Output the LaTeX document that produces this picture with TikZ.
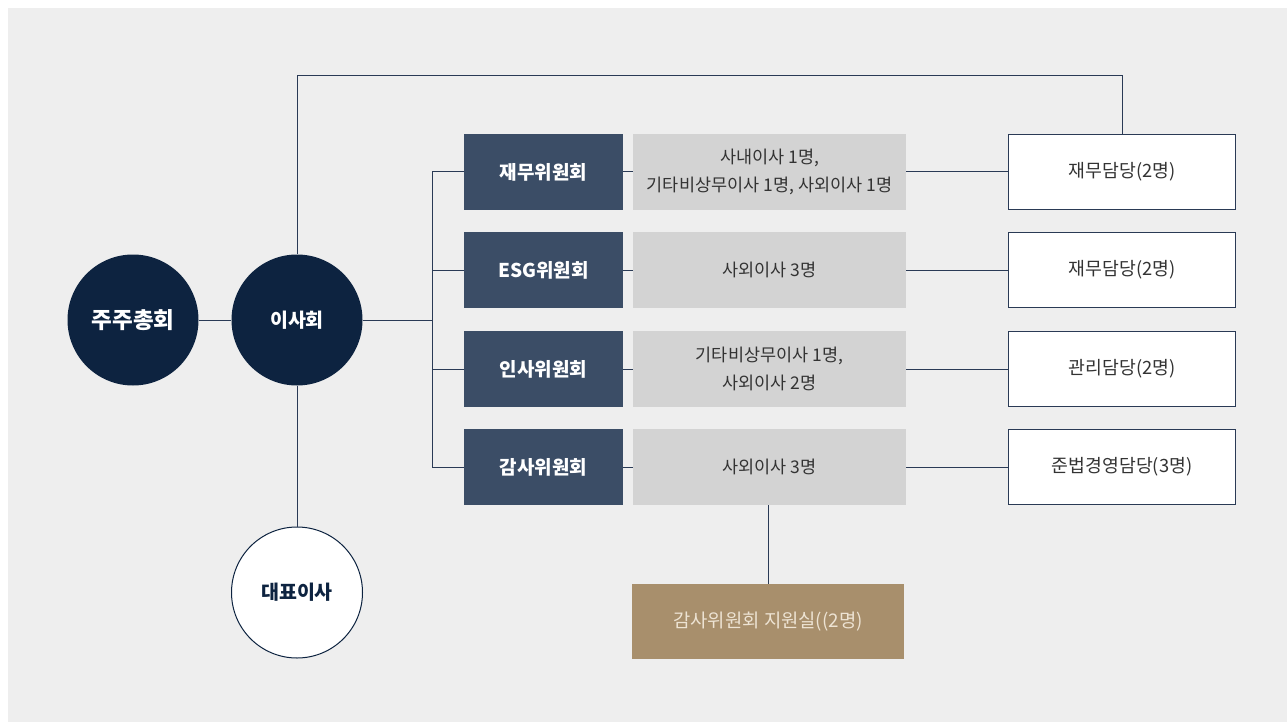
\documentclass[tikz,border=0pt]{standalone}
\usepackage{fontspec}
\setmainfont{Noto Sans CJK KR}
\definecolor{bgc}{HTML}{EEEEEE}
\definecolor{navyc}{HTML}{0D2340}
\definecolor{commc}{HTML}{3B4D66}
\definecolor{grayc}{HTML}{D3D3D3}
\definecolor{linec}{HTML}{2A3A55}
\definecolor{goldc}{HTML}{A88F6C}
\definecolor{goldtext}{HTML}{EDE3D3}
\definecolor{textc}{HTML}{333333}
\begin{document}
\begin{tikzpicture}[x=1pt,y=-1pt,
  conn/.style={draw=linec, line width=1pt},
  circ/.style={circle, minimum size=131pt, inner sep=0pt, font=\fontsize{19.5}{22}\selectfont\bfseries},
  comm/.style={fill=commc, minimum width=159pt, minimum height=76pt, inner sep=0pt, text=white, font=\fontsize{19}{22}\selectfont\bfseries},
  mem/.style={fill=grayc, minimum width=273pt, minimum height=76pt, inner sep=0pt, text=textc, align=center, font=\fontsize{17.5}{28}\selectfont},
  staff/.style={fill=white, draw=linec, line width=1pt, minimum width=227pt, minimum height=75pt, inner sep=0pt, text=textc, font=\fontsize{18.3}{22}\selectfont},
  goldbox/.style={fill=goldc, minimum width=272pt, minimum height=75pt, inner sep=0pt, text=goldtext, font=\fontsize{18.8}{22}\selectfont}
]
\useasboundingbox (0,0) rectangle (1287,722);
\fill[bgc] (8,8) rectangle (1287,722);

\node[circ, fill=navyc, text=white, font=\fontsize{22.5}{26}\selectfont\bfseries] (gm) at (133,320) {주주총회};
\node[circ, fill=navyc, text=white] (bd) at (297,320) {이사회};
\node[circ, fill=white, draw=navyc, line width=1pt, text=navyc] (ceo) at (297,592.5) {대표이사};

\node[comm] (c1) at (543.5,172) {재무위원회};
\node[comm] (c2) at (543.5,270) {ESG위원회};
\node[comm] (c3) at (543.5,369) {인사위원회};
\node[comm] (c4) at (543.5,467) {감사위원회};

\node[mem] (m1) at (769.5,172) {사내이사 1명,\\기타비상무이사 1명, 사외이사 1명};
\node[mem] (m2) at (769.5,270) {사외이사 3명};
\node[mem] (m3) at (769.5,369) {기타비상무이사 1명,\\사외이사 2명};
\node[mem] (m4) at (769.5,467) {사외이사 3명};

\node[staff] (s1) at (1122,172) {재무담당(2명)};
\node[staff] (s2) at (1122,270) {재무담당(2명)};
\node[staff] (s3) at (1122,369) {관리담당(2명)};
\node[staff] (s4) at (1122,467) {준법경영담당(3명)};

\node[goldbox] (gs) at (768,621.5) {감사위원회 지원실((2명)};

\coordinate (j) at (432,320);
\coordinate (bt) at (432,172);
\coordinate (bb) at (432,467);
\coordinate (tl) at (297,75.5);

\draw[conn] (gm.east) -- (bd.west);
\draw[conn] (bd.east) -- (j);
\draw[conn] (bt) -- (bb);
\draw[conn] (bt) -- (c1.west);
\draw[conn] (c2.west -| bt) -- (c2.west);
\draw[conn] (c3.west -| bt) -- (c3.west);
\draw[conn] (bb) -- (c4.west);
\foreach \i in {1,2,3,4}{
  \draw[conn] (c\i.east) -- (m\i.west);
  \draw[conn] (m\i.east) -- (s\i.west);
}
\draw[conn] (bd.north) -- (tl) -| (s1.north);
\draw[conn] (bd.south) -- (ceo.north);
\draw[conn] (gs.north) -- (gs.north |- m4.south);
\end{tikzpicture}
\end{document}
